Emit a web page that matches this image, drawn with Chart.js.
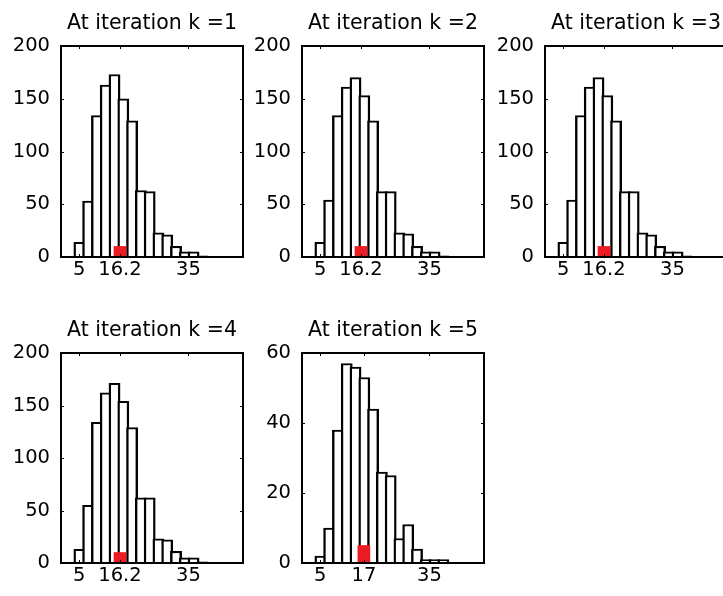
<!DOCTYPE html>
<html>
<head>
<meta charset="utf-8">
<title>At iteration k</title>
<script src="https://cdn.jsdelivr.net/npm/chart.js@4.4.0/dist/chart.umd.min.js"></script>
<style>
  html, body { margin: 0; padding: 0; background: #fff; overflow: hidden; }
  body { width: 723px; height: 596px; position: relative; }
  canvas.panel { position: absolute; }
</style>
</head>
<body>
<canvas id="p1" class="panel"></canvas>
<canvas id="p2" class="panel"></canvas>
<canvas id="p3" class="panel"></canvas>
<canvas id="p4" class="panel"></canvas>
<canvas id="p5" class="panel"></canvas>
<script>
/**
 * Data
 */
// histogram bin centres (same 15 bins in every panel)
const binCenters = [5.05, 7.46, 9.88, 12.29, 14.70, 17.12, 19.53, 21.94, 24.36, 26.77, 29.18, 31.60, 34.01, 36.42, 38.84];
const counts1 = [14, 53, 134, 163, 173, 150, 129, 63, 62, 23, 21, 10, 5, 5, 1];
const counts2 = [14, 54, 134, 161, 170, 153, 129, 62, 62, 23, 22, 10, 5, 5, 1];
const counts3 = [14, 54, 134, 161, 170, 153, 129, 62, 62, 23, 21, 10, 5, 5, 1];
const counts4 = [13, 55, 134, 162, 171, 154, 129, 62, 62, 23, 22, 11, 5, 5, 1];
const counts5 = [2, 10, 38, 57, 56, 53, 44, 26, 25, 7, 11, 4, 1, 1, 1];
const allCounts = [counts1, counts2, counts3, counts4, counts5];

const titles = ["At iteration k =1", "At iteration k =2", "At iteration k =3", "At iteration k =4", "At iteration k =5"];

// red marker (position and height)
const markerX = [16.2, 16.2, 16.2, 16.2, 17];
const markerH = [10, 10, 10, 10, 5];

// tick labels
const xTicks = [[5, 16.2, 35], [5, 16.2, 35], [5, 16.2, 35], [5, 16.2, 35], [5, 17, 35]];
const xMin = 0, xMax = 50;
const yMax = [200, 200, 200, 200, 60];
const yStep = [50, 50, 50, 50, 20];

/**
 * Layout of the panels (plot box left/top, box height)
 */
const boxes = [
    {left: 61, top: 46, h: 211},
    {left: 302, top: 46, h: 211},
    {left: 545, top: 46, h: 211},
    {left: 61, top: 353, h: 210},
    {left: 302, top: 353, h: 210}
];
const boxWidth = 182;
const yAxisW = 48;
const xAxisH = 40;
const titleH = 40;
const FONT = "'DejaVu Sans', sans-serif";
const FONT_SIZE = 19.5;
const TITLE_SIZE = 20.5;

// bar outline widths; neighbouring bars overlap by one side line so edges are shared
const sideLine = 2.4;
const binPx = (binCenters[1] - binCenters[0]) * boxWidth / (xMax - xMin);

/**
 * draws the axes box and inward ticks, matlab style
 */
const framePlugin = {
    id: 'frame',
    afterDatasetsDraw(chart) {
        const {ctx, chartArea: a, scales} = chart;
        ctx.save();
        ctx.strokeStyle = '#000';
        ctx.lineWidth = 1;
        ctx.beginPath();
        scales.x.ticks.forEach(t => {
            const px = Math.round(scales.x.getPixelForValue(t.value)) + 0.5;
            ctx.moveTo(px, a.bottom); ctx.lineTo(px, a.bottom - 3);
            ctx.moveTo(px, a.top); ctx.lineTo(px, a.top + 3);
        });
        scales.y.ticks.forEach(t => {
            const py = Math.round(scales.y.getPixelForValue(t.value)) + 0.5;
            ctx.moveTo(a.left, py); ctx.lineTo(a.left + 3, py);
            ctx.moveTo(a.right, py); ctx.lineTo(a.right - 3, py);
        });
        ctx.stroke();
        ctx.lineWidth = 2;
        ctx.strokeRect(a.left, a.top, a.right - a.left, a.bottom - a.top);
        ctx.restore();
    }
};

function drawPanel(i) {
    const box = boxes[i];
    const cv = document.getElementById('p' + (i + 1));
    cv.width = yAxisW + boxWidth + 2;
    cv.height = titleH + box.h + xAxisH;
    cv.style.left = (box.left - yAxisW) + 'px';
    cv.style.top = (box.top - titleH) + 'px';

    const hist = binCenters.map((x, j) => ({x: x, y: allCounts[i][j]}));

    new Chart(cv.getContext('2d'), {
        type: 'bar',
        data: {
            datasets: [{
                // red marker, drawn on top
                data: [{x: markerX[i], y: markerH[i]}],
                grouped: false,
                backgroundColor: '#ed1c24',
                borderWidth: 0,
                barThickness: 12
            }, {
                data: hist,
                grouped: false,
                backgroundColor: '#fff',
                borderColor: '#000',
                borderWidth: {left: sideLine, right: sideLine, top: 2, bottom: 0},
                barThickness: binPx + sideLine
            }]
        },
        options: {
            responsive: false,
            animation: false,
            layout: {padding: {right: 2, left: 0, top: 0, bottom: 0}},
            plugins: {
                legend: {display: false},
                tooltip: {enabled: false},
                title: {
                    display: true,
                    text: titles[i],
                    fullSize: false,
                    color: '#000',
                    font: {family: FONT, size: TITLE_SIZE, weight: 'normal', lineHeight: '26px'},
                    padding: {top: 5, bottom: 9}
                }
            },
            scales: {
                x: {
                    type: 'linear',
                    min: xMin,
                    max: xMax,
                    offset: false,
                    grid: {display: false, drawTicks: false, offset: false},
                    border: {display: false},
                    afterBuildTicks: (s) => { s.ticks = xTicks[i].map(v => ({value: v})); },
                    afterFit: (s) => { s.height = xAxisH; },
                    ticks: {
                        color: '#000',
                        padding: 1,
                        maxRotation: 0,
                        autoSkip: false,
                        font: {family: FONT, size: FONT_SIZE},
                        callback: (v) => String(v)
                    }
                },
                y: {
                    min: 0,
                    max: yMax[i],
                    grid: {display: false, drawTicks: false},
                    border: {display: false},
                    afterFit: (s) => { s.width = yAxisW; },
                    ticks: {
                        stepSize: yStep[i],
                        color: '#000',
                        padding: 11,
                        font: {family: FONT, size: FONT_SIZE}
                    }
                }
            }
        },
        plugins: [framePlugin]
    });
}

for (let i = 0; i < 5; i++) drawPanel(i);
</script>
</body>
</html>
